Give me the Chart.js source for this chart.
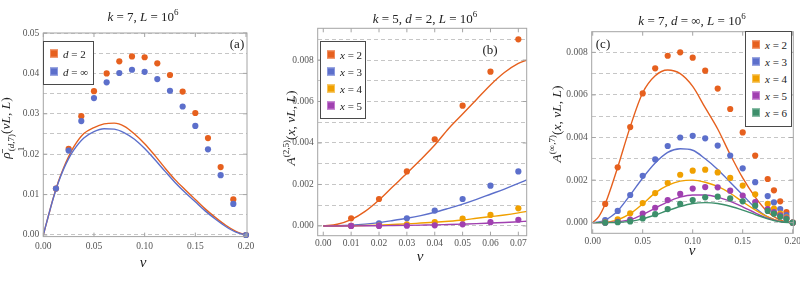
<!DOCTYPE html>
<html><head><meta charset="utf-8">
<script src="https://cdn.jsdelivr.net/npm/chart.js@4"></script>
<style>
body{margin:0;background:#fff;width:800px;height:281px;overflow:hidden;position:relative;font-family:'Liberation Serif','DejaVu Serif',serif;color:#222;}
canvas{position:absolute;top:0;}
.t{position:absolute;white-space:nowrap;transform:translate(-50%,-50%);font-size:13px;line-height:1;}
.yl{position:absolute;white-space:nowrap;transform:translate(-50%,-50%) rotate(-90deg);font-size:13.5px;line-height:1;}
i{font-style:italic}
sup{font-size:9px;vertical-align:6px;line-height:0}
.stk{display:inline-flex;flex-direction:column;font-size:9px;line-height:10px;vertical-align:-4px;margin-left:1px}
.leg{position:absolute;border:1.3px solid #4a4a4a;background:#fff;box-sizing:border-box;}
.it{position:absolute;white-space:nowrap;font-size:11px;line-height:1;transform:translateY(-50%);}
.sw{display:inline-block;width:6px;height:6px;margin-right:5px;vertical-align:0px;border:1px solid;}
</style>
</head><body>
<canvas id="ca" width="270" height="281" style="left:0px"></canvas>
<canvas id="cb" width="265" height="281" style="left:270px"></canvas>
<canvas id="cc" width="265" height="281" style="left:535px"></canvas>

<div class="t" style="left:143px;top:16px"><i>k</i> = 7, <i>L</i> = 10<sup>6</sup></div>
<div class="t" style="left:425px;top:18px"><i>k</i> = 5, <i>d</i> = 2, <i>L</i> = 10<sup>6</sup></div>
<div class="t" style="left:692px;top:20px"><i>k</i> = 7, <i>d</i> = ∞, <i>L</i> = 10<sup>6</sup></div>

<div class="yl" style="left:12px;top:128px"><i>ρ̄</i><span class="stk"><span>(<i>d</i>,7)</span><span>1</span></span>(<i>νL</i>, <i>L</i>)</div>
<div class="yl" style="left:291px;top:128px"><i>A</i><sup>(2,5)</sup>(<i>x</i>, <i>νL</i>, <i>L</i>)</div>
<div class="yl" style="left:557px;top:124px"><i>A</i><sup>(∞,7)</sup>(<i>x</i>, <i>νL</i>, <i>L</i>)</div>

<div class="t" style="left:143px;top:262px;font-size:15px"><i>ν</i></div>
<div class="t" style="left:420px;top:256px;font-size:15px"><i>ν</i></div>
<div class="t" style="left:692px;top:250px;font-size:15px"><i>ν</i></div>

<div class="t" style="left:237px;top:43px;font-size:13px">(a)</div>
<div class="t" style="left:490px;top:49px;font-size:13px">(b)</div>
<div class="t" style="left:603px;top:43px;font-size:13px">(c)</div>

<div class="leg" style="left:43px;top:41px;width:51px;height:44px">
 <div class="it" style="left:6px;top:12px"><span class="sw" style="background:#E6601E;border-color:#F08a5a"></span><i>d</i> = 2</div>
 <div class="it" style="left:6px;top:30px"><span class="sw" style="background:#5C6FCB;border-color:#8c9ade"></span><i>d</i> = ∞</div>
</div>
<div class="leg" style="left:320px;top:41px;width:46px;height:78px">
 <div class="it" style="left:6px;top:13px"><span class="sw" style="background:#E6601E;border-color:#F08a5a"></span><i>x</i> = 2</div>
 <div class="it" style="left:6px;top:30px"><span class="sw" style="background:#5C6FCB;border-color:#8c9ade"></span><i>x</i> = 3</div>
 <div class="it" style="left:6px;top:47px"><span class="sw" style="background:#F0A000;border-color:#f6c45a"></span><i>x</i> = 4</div>
 <div class="it" style="left:6px;top:64px"><span class="sw" style="background:#A040B0;border-color:#c37ccf"></span><i>x</i> = 5</div>
</div>
<div class="leg" style="left:745px;top:31px;width:47px;height:96px">
 <div class="it" style="left:6px;top:13px"><span class="sw" style="background:#E6601E;border-color:#F08a5a"></span><i>x</i> = 2</div>
 <div class="it" style="left:6px;top:30px"><span class="sw" style="background:#5C6FCB;border-color:#8c9ade"></span><i>x</i> = 3</div>
 <div class="it" style="left:6px;top:47px"><span class="sw" style="background:#F0A000;border-color:#f6c45a"></span><i>x</i> = 4</div>
 <div class="it" style="left:6px;top:64px"><span class="sw" style="background:#A040B0;border-color:#c37ccf"></span><i>x</i> = 5</div>
 <div class="it" style="left:6px;top:81px"><span class="sw" style="background:#3D8F6B;border-color:#7ab59b"></span><i>x</i> = 6</div>
</div>

<script>
// ---------------- DATA ----------------
// Panel (a)
const nuA = [0.0125,0.025,0.0375,0.05,0.0625,0.075,0.0875,0.1,0.1125,0.125,0.1375,0.15,0.1625,0.175,0.1875,0.2];
const rhoD2 = [0.0115,0.0213,0.0294,0.0356,0.0400,0.0430,0.0442,0.0440,0.0425,0.0396,0.0355,0.0302,0.0240,0.0168,0.0088,0.0];
const rhoDinf = [0.0115,0.0209,0.0282,0.0339,0.0378,0.0401,0.0409,0.0404,0.0386,0.0357,0.0318,0.0270,0.0212,0.0148,0.0077,0.0];
const nuCurveA = [0,0.005,0.01,0.015,0.02,0.025,0.03,0.04,0.05,0.06,0.07,0.08,0.09,0.1,0.11,0.12,0.13,0.14,0.15,0.16,0.17,0.18,0.19,0.2];
const rhoD2Curve = [0,0.0047,0.0093,0.0133,0.0166,0.0194,0.0218,0.0251,0.0266,0.0275,0.0277,0.0269,0.0250,0.0226,0.0197,0.0166,0.0137,0.0112,0.0088,0.0064,0.0043,0.0024,0.0009,0];
const rhoDinfCurve = [0,0.0047,0.0092,0.0131,0.0163,0.0189,0.0210,0.0240,0.0256,0.0263,0.0262,0.0253,0.0237,0.0214,0.0187,0.0158,0.0130,0.0105,0.0082,0.0059,0.0039,0.0021,0.0007,0];
const xTicksA = [0,0.05,0.1,0.15,0.2];
const yTicksA = [0,0.01,0.02,0.03,0.04,0.05];
const yGridA = [0,0.005,0.01,0.015,0.02,0.025,0.03,0.035,0.04,0.045,0.05];

// Panel (b)
const nuB = [0.01,0.02,0.03,0.04,0.05,0.06,0.07];
const aB2 = [0.00037,0.0013,0.00263,0.00418,0.0058,0.00744,0.0090];
const aB3 = [0.00001,0.00013,0.00037,0.00074,0.0013,0.00194,0.00263];
const aB4 = [0,0.00002,0.00008,0.00018,0.00035,0.00053,0.00085];
const aB5 = [0,0,0.00001,0.00003,0.00008,0.00018,0.0003];
const nuCurveB = [0,0.005,0.01,0.015,0.02,0.025,0.03,0.035,0.04,0.045,0.05,0.055,0.06,0.065,0.07,0.073];
const aB2Curve = [0,0.00008,0.0003,0.0007,0.00125,0.0019,0.00254,0.0032,0.0039,0.0047,0.0054,0.0061,0.0068,0.0074,0.00784,0.0080];
const aB3Curve = [0,0.00001,0.00004,0.00009,0.00016,0.00026,0.00037,0.0005,0.00066,0.00085,0.00105,0.00128,0.00153,0.00178,0.00205,0.00222];
const aB4Curve = [0,0,0.00001,0.00002,0.00004,0.00007,0.0001,0.00014,0.00018,0.00023,0.00029,0.00037,0.00045,0.00053,0.00063,0.0007];
const aB5Curve = [0,0,0,0.00001,0.00001,0.00002,0.00003,0.00004,0.00005,0.00007,0.00009,0.00011,0.00014,0.00017,0.0002,0.00023];
const xTicksB = [0,0.01,0.02,0.03,0.04,0.05,0.06,0.07];
const yTicksB = [0,0.002,0.004,0.006,0.008];
const yGridB = [0,0.001,0.002,0.003,0.004,0.005,0.006,0.007,0.008,0.009];

// Panel (c)
const nuC = [0.0125,0.025,0.0375,0.05,0.0625,0.075,0.0875,0.1,0.1125,0.125,0.1375,0.15,0.1625,0.175,0.18125,0.1875,0.19375,0.2];
const aC2 = [0.00088,0.0026,0.00449,0.00607,0.00725,0.00784,0.0080,0.00775,0.00714,0.0063,0.00534,0.00424,0.00315,0.00205,0.00152,0.0010,0.0005,0];
const aC3 = [0.00012,0.00055,0.0013,0.0022,0.00297,0.0036,0.0040,0.00408,0.00396,0.00362,0.00315,0.00255,0.0019,0.00125,0.00095,0.00064,0.00036,0];
const aC4 = [0.00002,0.00015,0.00044,0.00092,0.00139,0.00186,0.00225,0.00244,0.00249,0.00236,0.0021,0.00174,0.00133,0.00088,0.00066,0.00042,0.00025,0];
const aC5 = [0,0.00004,0.00014,0.00043,0.0007,0.00106,0.00135,0.0016,0.00167,0.00166,0.0015,0.00127,0.00097,0.00064,0.00049,0.00034,0.0002,0];
const aC6 = [0,0.00002,0.00006,0.0002,0.0004,0.00064,0.00088,0.00106,0.00119,0.00122,0.00114,0.001,0.0008,0.00055,0.00042,0.00028,0.00017,0];
const nuCurveC = [0,0.00625,0.0125,0.01875,0.025,0.0375,0.05,0.0625,0.075,0.0875,0.1,0.1125,0.125,0.1375,0.15,0.1625,0.175,0.1875,0.2];
const aC2Curve = [0,0.0003,0.00088,0.0017,0.0026,0.0045,0.0061,0.0069,0.00717,0.0070,0.0064,0.0054,0.0044,0.0032,0.0021,0.0012,0.0005,0.00012,0];
const aC3Curve = [0,0.00003,0.00012,0.0003,0.00055,0.0013,0.0021,0.0028,0.0033,0.00347,0.0034,0.0030,0.0025,0.0019,0.0013,0.0007,0.00027,0.00006,0];
const aC4Curve = [0,0,0.00002,0.00006,0.00013,0.00042,0.00088,0.0014,0.00175,0.00195,0.0020,0.0019,0.0017,0.00138,0.00098,0.0006,0.00027,0.00006,0];
const aC5Curve = [0,0,0,0.00002,0.00004,0.00014,0.00038,0.00068,0.00098,0.0012,0.0013,0.0013,0.0012,0.001,0.00074,0.00046,0.00021,0.00005,0];
const aC6Curve = [0,0,0,0,0.00001,0.00006,0.00018,0.00036,0.00057,0.00076,0.0009,0.00094,0.0009,0.00077,0.00059,0.00038,0.00018,0.00004,0];
const xTicksC = [0,0.05,0.1,0.15,0.2];
const yTicksC = [0,0.002,0.004,0.006,0.008];
const yGridC = [0,0.001,0.002,0.003,0.004,0.005,0.006,0.007,0.008];

// ---------------- STYLE ----------------
const COL = {o:'#E6601E', b:'#5C6FCB', y:'#F0A000', p:'#A040B0', g:'#3D8F6B'};
const FONT = {family:"'Liberation Serif', serif", size:9.5};

const zip = (xs, ys) => xs.map((x,i)=>({x, y:ys[i]}));
const near = (arr, v) => arr.some(t => Math.abs(t - v) < 1e-9);

function pts(label, xs, ys, color, order){
  return {label, data: zip(xs,ys), showLine:false, pointRadius:3.1, pointHoverRadius:3.1,
    pointBackgroundColor:color, pointBorderWidth:0, borderColor:color, backgroundColor:color, clip:false, order};
}
function crv(label, xs, ys, color, order){
  return {label, data: zip(xs,ys), showLine:true, pointRadius:0, borderColor:color, borderWidth:1.4,
    cubicInterpolationMode:'monotone', fill:false, order};
}

const framePlugin = {
  id:'frame',
  afterDraw(chart){
    const {ctx, chartArea:a, scales} = chart;
    const o = chart.options.plugins.frame;
    ctx.save();
    ctx.strokeStyle = '#a4a4a4'; ctx.lineWidth = 1;
    ctx.strokeRect(a.left, a.top, a.right - a.left, a.bottom - a.top);
    ctx.beginPath();
    o.xt.forEach(v => { const p = scales.x.getPixelForValue(v);
      ctx.moveTo(p, a.bottom); ctx.lineTo(p, a.bottom - 4);
      ctx.moveTo(p, a.top); ctx.lineTo(p, a.top + 4); });
    o.yt.forEach(v => { const p = scales.y.getPixelForValue(v);
      ctx.moveTo(a.left, p); ctx.lineTo(a.left + 4, p);
      ctx.moveTo(a.right, p); ctx.lineTo(a.right - 4, p); });
    ctx.stroke();
    ctx.restore();
  }
};

function makeChart(id, W, H, area, xr, yr, xTicks, yTicks, yGrid, xDec, yDec, xPad, datasets){
  new Chart(document.getElementById(id), {
    type:'line',
    data:{datasets},
    plugins:[framePlugin],
    options:{
      responsive:false, animation:false, events:[],
      layout:{padding:{left:0, top:area.top, right:W - area.right, bottom:H - area.bottom - 20}},
      plugins:{legend:{display:false}, tooltip:{enabled:false}, frame:{xt:xTicks, yt:yTicks}},
      scales:{
        x:{type:'linear', min:xr[0], max:xr[1],
          afterBuildTicks: s => { s.ticks = xTicks.map(v => ({value:v})); },
          afterFit: s => { s.height = 20; s.paddingLeft = 0; s.paddingRight = 0; },
          grid:{display:false, drawTicks:false, tickLength:0}, border:{display:false},
          ticks:{font:FONT, color:'#555', padding:xPad, maxRotation:0, autoSkip:false,
            callback: v => Number(v).toFixed(xDec)}},
        y:{type:'linear', min:yr[0], max:yr[1],
          afterBuildTicks: s => { s.ticks = yGrid.map(v => ({value:v})); },
          afterFit: s => { s.width = area.left; s.paddingTop = 0; s.paddingBottom = 0; },
          grid:{color:'#c6c6c6', lineWidth:1, drawTicks:false, tickLength:0},
          border:{display:false, dash:[4,3]},
          ticks:{font:FONT, color:'#555', padding:4, autoSkip:false,
            callback: v => near(yTicks, v) ? Number(v).toFixed(yDec) : ''}}
      }
    }
  });
}

makeChart('ca', 270, 281, {left:43.3, right:247, top:33, bottom:236.6},
  [0, 0.201], [-0.0004, 0.05], xTicksA, yTicksA, yGridA, 2, 2, 4, [
  pts('d = ∞', nuA, rhoDinf, COL.b, 0),
  pts('d = 2', nuA, rhoD2, COL.o, 1),
  crv('d = ∞ curve', nuCurveA, rhoDinfCurve, COL.b, 2),
  crv('d = 2 curve', nuCurveA, rhoD2Curve, COL.o, 3)
]);

makeChart('cb', 265, 281, {left:47.7, right:256.7, top:28.3, bottom:235.7},
  [-0.002, 0.073], [-0.00047, 0.00953], xTicksB, yTicksB, yGridB, 2, 3, 2, [
  pts('x = 5', nuB, aB5, COL.p, 0),
  pts('x = 4', nuB, aB4, COL.y, 1),
  pts('x = 3', nuB, aB3, COL.b, 2),
  pts('x = 2', nuB, aB2, COL.o, 3),
  crv('x = 5 curve', nuCurveB, aB5Curve, COL.p, 4),
  crv('x = 4 curve', nuCurveB, aB4Curve, COL.y, 5),
  crv('x = 3 curve', nuCurveB, aB3Curve, COL.b, 6),
  crv('x = 2 curve', nuCurveB, aB2Curve, COL.o, 7)
]);

makeChart('cc', 265, 281, {left:56.7, right:258.3, top:31.7, bottom:233.3},
  [-0.001, 0.2006], [-0.0005, 0.00897], xTicksC, yTicksC, yGridC, 2, 3, 2, [
  pts('x = 6', nuC, aC6, COL.g, 0),
  pts('x = 5', nuC, aC5, COL.p, 1),
  pts('x = 4', nuC, aC4, COL.y, 2),
  pts('x = 3', nuC, aC3, COL.b, 3),
  pts('x = 2', nuC, aC2, COL.o, 4),
  crv('x = 6 curve', nuCurveC, aC6Curve, COL.g, 5),
  crv('x = 5 curve', nuCurveC, aC5Curve, COL.p, 6),
  crv('x = 4 curve', nuCurveC, aC4Curve, COL.y, 7),
  crv('x = 3 curve', nuCurveC, aC3Curve, COL.b, 8),
  crv('x = 2 curve', nuCurveC, aC2Curve, COL.o, 9)
]);
</script>
</body></html>
